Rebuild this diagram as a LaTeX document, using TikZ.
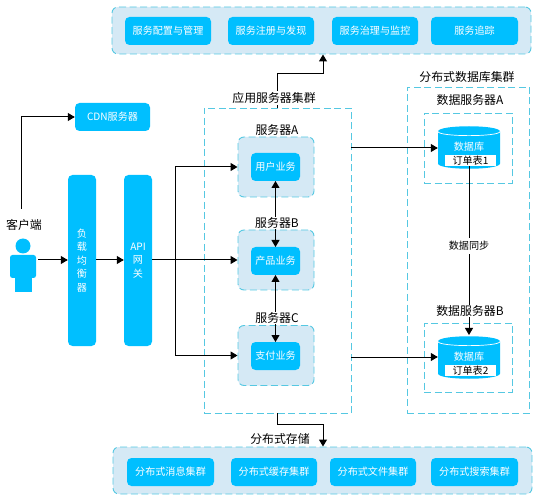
\documentclass[tikz,border=0pt]{standalone}
\usepackage{fontspec}
\setmainfont{Noto Sans CJK SC}
\usetikzlibrary{arrows.meta,calc}
\definecolor{cy}{HTML}{00BFFF}
\definecolor{pale}{HTML}{D5E9F5}
\definecolor{dash}{HTML}{55C8E2}
\tikzset{
  x=1pt,y=-1pt,
  band/.style={draw=dash,fill=pale,line width=0.95pt,dash pattern=on 7pt off 3.5pt,rounded corners=6pt,inner sep=0},
  frame/.style={draw=dash,line width=0.95pt,dash pattern=on 7pt off 3.5pt,inner sep=0},
  svc/.style={fill=cy,rounded corners=4.5pt,text=white,font=\fontsize{10.1}{11}\selectfont,inner sep=0,align=center},
  lab/.style={text=black,font=\fontsize{11.9}{13}\selectfont,inner sep=0},
  mask/.style={fill=white,inner xsep=1pt,inner ysep=1pt},
  conn/.style={draw=black,line width=1pt,-{Triangle[length=7pt,width=8pt]}},
  both/.style={draw=black,line width=1pt,{Triangle[length=7pt,width=8pt]}-{Triangle[length=7pt,width=8pt]}},
  plain/.style={draw=black,line width=1pt},
  dbtext/.style={text=white,font=\fontsize{10.1}{11}\selectfont,inner sep=0},
  tabl/.style={fill=white,font=\fontsize{10.1}{11}\selectfont,inner sep=0,minimum width=51pt,minimum height=11pt},
  anchorbox/.style={inner sep=0,minimum width=62pt,minimum height=43pt},
}
\begin{document}
\begin{tikzpicture}
\useasboundingbox (0,0) rectangle (539,500);
% top band
\node[band,minimum width=419pt,minimum height=47pt] (top) at (321.5,30.5) {};
\node[svc,minimum width=86pt,minimum height=28pt] (t1) at (168,31) {服务配置与管理};
\node[svc,minimum width=86pt,minimum height=28pt] (t2) at (271,31) {服务注册与发现};
\node[svc,minimum width=86pt,minimum height=28pt] (t3) at (375,31) {服务治理与监控};
\node[svc,minimum width=87pt,minimum height=28pt] (t4) at (474.5,31) {服务追踪};
% bottom band
\node[band,minimum width=419pt,minimum height=47pt] (bot) at (322.5,470.5) {};
\node[svc,minimum width=87pt,minimum height=28pt] (b1) at (170.5,472) {分布式消息集群};
\node[svc,minimum width=86pt,minimum height=28pt] (b2) at (274,472) {分布式缓存集群};
\node[svc,minimum width=86pt,minimum height=28pt] (b3) at (373,472) {分布式文件集群};
\node[svc,minimum width=87pt,minimum height=28pt] (b4) at (474.5,472) {分布式搜索集群};
% left column
\node[svc,minimum width=75pt,minimum height=28pt] (cdn) at (112.5,117) {CDN服务器};
\node[svc,minimum width=28pt,minimum height=171pt,text width=12pt,font=\fontsize{10.1}{13.5}\selectfont] (lb) at (82,260.5) {负\\载\\均\\衡\\器};
\node[svc,minimum width=28pt,minimum height=171pt,text width=20pt,font=\fontsize{10.1}{13.5}\selectfont] (api) at (138,260.5) {API\\网\\关};
\node[lab] (client) at (24,225) {客户端};
% person
\fill[cy] (23,246) circle (7.5);
\fill[cy,rounded corners=2.5pt] (10,278) -- (10,255) -- (36,255) -- (36,278) -- cycle;
\fill[cy] (14.5,270) rectangle (32,292);
\coordinate (person) at (38,260);
\coordinate (clientup) at (21,209);
% app cluster
\node[frame,minimum width=147pt,minimum height=305pt] (app) at (277.5,260.5) {};
\node[band,minimum width=76pt,minimum height=60pt] (sa) at (276,167) {};
\node[band,minimum width=76pt,minimum height=60pt] (sb) at (276,260) {};
\node[band,minimum width=76pt,minimum height=60pt] (sc) at (276,355.5) {};
\node[svc,minimum width=49pt,minimum height=28pt] (ua) at (275.5,167) {用户业务};
\node[svc,minimum width=49pt,minimum height=28pt] (ub) at (275.5,261) {产品业务};
\node[svc,minimum width=49pt,minimum height=28pt] (uc) at (275.5,356) {支付业务};
% db cluster
\node[frame,minimum width=122pt,minimum height=326pt] (db) at (468,250) {};
\node[frame,minimum width=88pt,minimum height=70pt] (da) at (468,148) {};
\node[frame,minimum width=88pt,minimum height=69pt] (dbb) at (468,357.5) {};
% cylinders
\foreach \cx/\cyy in {469/147.5,469/357.5}{
  \fill[cy] (\cx-31,\cyy-16) -- (\cx-31,\cyy+16)
     .. controls (\cx-31,\cyy+23) and (\cx+31,\cyy+23) .. (\cx+31,\cyy+16)
     -- (\cx+31,\cyy-16)
     .. controls (\cx+31,\cyy-23) and (\cx-31,\cyy-23) .. (\cx-31,\cyy-16) -- cycle;
  \draw[white,line width=0.7pt] (\cx-31,\cyy-16)
     .. controls (\cx-31,\cyy-10.5) and (\cx+31,\cyy-10.5) .. (\cx+31,\cyy-16);
}
\node[anchorbox] (cyla) at (469,147.5) {};
\node[anchorbox] (cylb) at (469,357.5) {};
\node[dbtext] at (469,147) {数据库};
\node[dbtext] at (469,357) {数据库};
\node[tabl] (ta) at (470.5,160.5) {订单表1};
\node[tabl] (tb) at (470.5,370.5) {订单表2};
% connectors
\draw[conn] (app.north -| 277,0) -- (277,74) -- (323,74) -- (top.south -| 323,0);
\draw[conn] (app.south -| 277,0) -- (277,424) -- (323,424) -- (bot.north -| 323,0);
\draw[conn] (clientup) -- (21,117) -- (cdn.west);
\draw[conn] (person) -- (lb.west |- person);
\draw[conn] (lb.east |- person) -- (api.west |- person);
\draw[plain] (api.east |- person) -- (175,260);
\draw[conn] (175,260) -- (175,167) -- (sa.west);
\draw[conn] (175,260) -- (sb.west);
\draw[conn] (175,260) -- (175,355.5) -- (sc.west);
\draw[both] (275.5,181) -- (275.5,247);
\draw[both] (275.5,275) -- (275.5,342);
\draw[conn] (351,148) -- (cyla.west |- 0,148);
\draw[conn] (351,357) -- (cylb.west |- 0,357);
\draw[conn] (ta.south -| 469,0) -- (469,335);
% labels
\node[lab,mask] (tapp) at (274,98) {应用服务器集群};
\node[lab,mask] (lsa) at (277,130) {服务器A};
\node[lab,mask] (lsb) at (277,223) {服务器B};
\node[lab,mask] (lsc) at (277,318) {服务器C};
\node[lab] (tdb) at (467,77) {分布式数据库集群};
\node[lab] (lda) at (470,100) {数据服务器A};
\node[lab,mask] (ldb) at (470,311) {数据服务器B};
\node[lab] (lst) at (280,439) {分布式存储};
\node[lab,mask,inner ysep=3pt,font=\fontsize{10.1}{11}\selectfont] (sync) at (469,246) {数据同步};
\end{tikzpicture}
\end{document}
